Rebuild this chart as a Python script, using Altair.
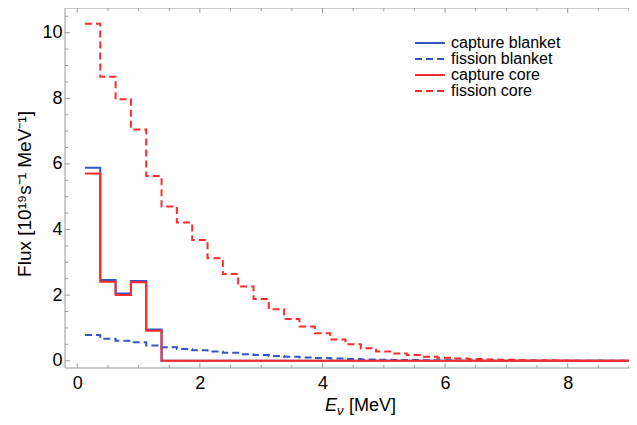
import altair as alt
import pandas as pd

# ---------------- data ----------------
bin_edges = [round(0.125 + 0.25 * k, 3) for k in range(38)]  # 0.125 ... 9.375 MeV

capture_blanket = [5.88, 2.46, 2.05, 2.43, 0.95] + [0.0] * 32
capture_core = [5.71, 2.41, 2.00, 2.39, 0.91] + [0.0] * 32
fission_blanket = [0.78, 0.67, 0.61, 0.56, 0.46, 0.41, 0.36, 0.32, 0.28, 0.24,
                   0.20, 0.17, 0.14, 0.12, 0.10, 0.08, 0.065, 0.05, 0.04, 0.03,
                   0.025, 0.02, 0.015, 0.01, 0.005] + [0.0] * 12
fission_core = [10.27, 8.66, 7.97, 7.05, 5.63, 4.70, 4.21, 3.68, 3.12, 2.64,
                2.26, 1.88, 1.57, 1.27, 1.04, 0.84, 0.65, 0.50, 0.38, 0.28,
                0.22, 0.17, 0.12, 0.09, 0.07, 0.05, 0.04, 0.03, 0.02, 0.015,
                0.01, 0.005] + [0.0] * 5

series_names = ["capture blanket", "fission blanket", "capture core", "fission core"]
series_values = [capture_blanket, fission_blanket, capture_core, fission_core]
series_colors = ["#3356c4", "#3356c4", "#ff2a2a", "#ff2a2a"]
series_dash = [[1, 0], [7, 4], [1, 0], [7, 4]]

x_major = [0, 2, 4, 6, 8]
x_minor = [0.5 * k for k in range(19) if k % 4 != 0]
y_major = [0, 2, 4, 6, 8, 10]
y_minor = [0.5 * k for k in range(22) if k % 4 != 0]

# ---------------- layout ----------------
W, H = 564, 360
FONT = "Liberation Sans"
FRAME = "#9a9a9a"

rows = []
for name, vals in zip(series_names, series_values):
    for i, v in enumerate(vals):
        rows.append({"series": name, "E": bin_edges[i], "F": v})
    rows.append({"series": name, "E": bin_edges[len(vals)], "F": vals[-1]})
df = pd.DataFrame(rows)

xs = alt.Scale(domain=[-0.2, 9.0], nice=False, zero=False)
ys = alt.Scale(domain=[-0.2226, 10.753], nice=False, zero=False)

x_axis = alt.Axis(values=x_major, ticks=False, domain=False, grid=False,
                  labelFontSize=18, labelFont=FONT, labelColor="black",
                  labelPadding=6, title=None, format="d")
y_axis = alt.Axis(values=y_major, ticks=False, domain=False, grid=False,
                  labelFontSize=18, labelFont=FONT, labelColor="black",
                  labelPadding=3, title=None, format="d")

layers = []
for k, name in enumerate(series_names):
    layers.append(
        alt.Chart(df).transform_filter(alt.datum.series == name)
        .mark_line(interpolate="step-after", clip=True, color=series_colors[k],
                   strokeDash=series_dash[k], strokeWidth=2)
        .encode(x=alt.X("E:Q", scale=xs, axis=x_axis),
                y=alt.Y("F:Q", scale=ys, axis=y_axis))
    )

# frame (left, bottom, top; the right side is cut off in the reference)
one = pd.DataFrame({"k": [0]})
frame = [
    alt.Chart(one).mark_rule(color=FRAME, strokeWidth=1).encode(
        x=alt.value(0), y=alt.value(0), y2=alt.value(H)),
    alt.Chart(one).mark_rule(color=FRAME, strokeWidth=1).encode(
        x=alt.value(0), x2=alt.value(W), y=alt.value(H)),
    alt.Chart(one).mark_rule(color=FRAME, strokeWidth=1).encode(
        x=alt.value(0), x2=alt.value(W), y=alt.value(0)),
]

# inward ticks
def xticks(vals, length):
    d = pd.DataFrame({"t": vals})
    bot = alt.Chart(d).mark_rule(color=FRAME, strokeWidth=1).encode(
        x=alt.X("t:Q", scale=xs, axis=x_axis), y=alt.value(H), y2=alt.value(H - length))
    top = alt.Chart(d).mark_rule(color=FRAME, strokeWidth=1).encode(
        x=alt.X("t:Q", scale=xs, axis=x_axis), y=alt.value(0), y2=alt.value(length))
    return [bot, top]

def yticks(vals, length):
    d = pd.DataFrame({"t": vals})
    return [alt.Chart(d).mark_rule(color=FRAME, strokeWidth=1).encode(
        y=alt.Y("t:Q", scale=ys, axis=y_axis), x=alt.value(0), x2=alt.value(length))]

ticks = xticks(x_major, 5) + xticks(x_minor, 3) + yticks(y_major, 5) + yticks(y_minor, 3)

# legend
legend = []
for k, name in enumerate(series_names):
    yy = 35 + 16 * k
    d = pd.DataFrame({"label": [name]})
    legend.append(alt.Chart(d).mark_rule(color=series_colors[k], strokeDash=series_dash[k],
                                         strokeWidth=2).encode(
        x=alt.value(350), x2=alt.value(380), y=alt.value(yy)))
    legend.append(alt.Chart(d).mark_text(align="left", baseline="middle", fontSize=16,
                                         font=FONT, color="black").encode(
        text="label:N", x=alt.value(386), y=alt.value(yy)))

# axis titles
ytitle = alt.Chart(pd.DataFrame({"label": ["Flux [10¹⁹s⁻¹ MeV⁻¹]"]})).mark_text(
    angle=270, fontSize=19, font=FONT, color="black", baseline="middle").encode(
    text="label:N", x=alt.value(-40), y=alt.value(186))
xt_E = alt.Chart(pd.DataFrame({"label": ["E"]})).mark_text(
    align="left", baseline="alphabetic", fontSize=18, font=FONT, fontStyle="italic",
    color="black").encode(text="label:N", x=alt.value(260), y=alt.value(403))
xt_nu = alt.Chart(pd.DataFrame({"label": ["ν"]})).mark_text(
    align="left", baseline="alphabetic", fontSize=13, font=FONT, fontStyle="italic",
    color="black").encode(text="label:N", x=alt.value(272), y=alt.value(407))
xt_unit = alt.Chart(pd.DataFrame({"label": ["[MeV]"]})).mark_text(
    align="left", baseline="alphabetic", fontSize=18, font=FONT,
    color="black").encode(text="label:N", x=alt.value(284), y=alt.value(403))

chart = alt.layer(*layers, *frame, *ticks, *legend, ytitle, xt_E, xt_nu, xt_unit).properties(
    width=W, height=H,
    autosize="none",
    padding={"left": 57, "top": 0, "right": 0, "bottom": 49},
).configure_view(stroke=None)

chart.save("out.html", embed_options={"renderer": "svg", "actions": False})
